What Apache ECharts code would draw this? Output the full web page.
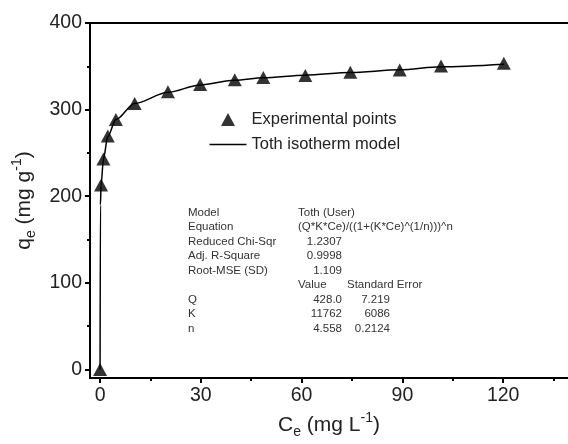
<!DOCTYPE html>
<html>
<head>
<meta charset="utf-8">
<script src="https://cdn.jsdelivr.net/npm/echarts@6/dist/echarts.min.js"></script>
<style>
html,body{margin:0;padding:0;background:#fff}
#chart{width:568px;height:444px}
</style>
</head>
<body>
<div id="chart"></div>
<script>
// experimental points (Ce, qe)
var ceValues = [0, 0.3, 1.0, 2.3, 4.7, 10.3, 20.2, 29.8, 40.1, 48.6, 61.1, 74.5, 89.2, 101.5, 120.2];
var qeValues = [0, 213, 243, 269.5, 288.5, 307, 320.5, 329, 334.5, 337, 339.5, 343, 345.6, 350.3, 353.5];
// Toth model curve
var modelCe = [0, 0.1, 0.3, 1.0, 2.3, 4.7, 10.3, 20.2, 29.8, 40.1, 48.6, 61.1, 74.5, 89.2, 101.5, 120.2];
var modelQe = [0, 190, 213, 243, 269, 288.5, 307, 320, 328.5, 334, 336.8, 339.8, 342.8, 346, 349.5, 352.5];

var xTicks = [0, 30, 60, 90, 120];
var xMinor = [15, 45, 75, 105, 135];
var yTicks = [0, 100, 200, 300, 400];
var yMinor = [50, 150, 250, 350];

// fit report
var modelName = 'Toth (User)';
var equation = '(Q*K*Ce)/((1+(K*Ce)^(1/n)))^n';
var fitNames = ['Reduced Chi-Sqr', 'Adj. R-Square', 'Root-MSE (SD)'];
var fitValues = ['1.2307', '0.9998', '1.109'];
var paramNames = ['Q', 'K', 'n'];
var paramValues = ['428.0', '11762', '4.558'];
var paramErrors = ['7.219', '6086', '0.2124'];

var FONT = 'Liberation Sans, Arial, sans-serif';
var X_MIN = -3, X_MAX = 139.3, Y_MIN = -10, Y_MAX = 400;

var chart = echarts.init(document.getElementById('chart'));

function txt(x, y, s, align) {
	return {
		type: 'text', x: x, y: y, silent: true,
		style: {
			text: s, fontSize: 11.5, fontFamily: FONT, fill: '#333',
			align: align || 'left', verticalAlign: 'middle',
			textAlign: align || 'left', textVerticalAlign: 'middle'
		}
	};
}

var stats = [];
var rowY = 212.5, rowH = 14.5;
stats.push(txt(188, rowY, 'Model'));
stats.push(txt(298, rowY, modelName));
stats.push(txt(188, rowY + rowH, 'Equation'));
stats.push(txt(298, rowY + rowH, equation));
for (var i = 0; i < fitNames.length; i++) {
	stats.push(txt(188, rowY + rowH * (2 + i), fitNames[i]));
	stats.push(txt(342, rowY + rowH * (2 + i), fitValues[i], 'right'));
}
stats.push(txt(298, rowY + rowH * 5, 'Value'));
stats.push(txt(347, rowY + rowH * 5, 'Standard Error'));
for (var j = 0; j < paramNames.length; j++) {
	stats.push(txt(188, rowY + rowH * (6 + j), paramNames[j]));
	stats.push(txt(342, rowY + rowH * (6 + j), paramValues[j], 'right'));
	stats.push(txt(390, rowY + rowH * (6 + j), paramErrors[j], 'right'));
}

var points = [];
for (var a = 0; a < ceValues.length; a++) points.push([ceValues[a], qeValues[a]]);
var curve = [];
for (var b = 0; b < modelCe.length; b++) curve.push([modelCe[b], modelQe[b]]);

var nameRich = {
	m: {fontSize: 21, fontFamily: FONT, color: '#222', lineHeight: 28},
	s: {fontSize: 14, fontFamily: FONT, color: '#222', verticalAlign: 'bottom', lineHeight: 14},
	p: {fontSize: 14, fontFamily: FONT, color: '#222', verticalAlign: 'top', lineHeight: 14}
};
var axisLineStyle = {color: '#000', width: 2};
var labelStyle = {fontSize: 19.5, fontFamily: FONT, color: '#222', margin: 8};

// legend icons: triangle kept in the middle of a 37px wide box, and a plain line
var triIcon = 'path://M0,6.5L0,6.5M37,6.5L37,6.5M18.5,0L25.5,13L11.5,13Z';
var lineIcon = 'path://M0,0L0,0M0,6.25L37,6.25L37,7.75L0,7.75ZM0,14L0,14';

function tickOnly(pos, min, max, values) {
	return {
		type: 'value', position: pos, min: min, max: max,
		axisLine: {show: false, onZero: false},
		axisTick: {show: true, customValues: values, length: 3, lineStyle: axisLineStyle},
		axisLabel: {show: false},
		splitLine: {show: false}
	};
}

var option = {
	backgroundColor: '#fff',
	animation: false,
	grid: {left: 90, top: 23, width: 482, height: 359},
	legend: {
		orient: 'vertical',
		left: 204.5, top: 106,
		itemWidth: 37, itemHeight: 14, itemGap: 8,
		symbolKeepAspect: true,
		itemStyle: {color: '#000'},
		textStyle: {fontSize: 16.5, fontFamily: FONT, color: '#222'},
		data: [
			{name: 'Experimental points', icon: triIcon},
			{name: 'Toth isotherm model', icon: lineIcon}
		]
	},
	xAxis: [{
		type: 'value', position: 'bottom', min: X_MIN, max: X_MAX,
		axisLine: {onZero: false, lineStyle: axisLineStyle},
		axisTick: {customValues: xTicks, length: 5, lineStyle: axisLineStyle},
		axisLabel: Object.assign({customValues: xTicks}, labelStyle),
		splitLine: {show: false},
		name: '{m|C}{s|e}{m| (mg L}{p|-1}{m|)}',
		nameLocation: 'middle', nameGap: 24,
		nameTextStyle: {rich: nameRich}
	},
	tickOnly('bottom', X_MIN, X_MAX, xMinor),
	{
		type: 'value', position: 'top', min: X_MIN, max: X_MAX,
		axisLine: {onZero: false, lineStyle: axisLineStyle},
		axisTick: {show: false},
		axisLabel: {show: false},
		splitLine: {show: false}
	}],
	yAxis: [{
		type: 'value', position: 'left', min: Y_MIN, max: Y_MAX,
		axisLine: {show: true, onZero: false, lineStyle: axisLineStyle},
		axisTick: {show: true, customValues: yTicks, length: 5, lineStyle: axisLineStyle},
		axisLabel: Object.assign({customValues: yTicks}, labelStyle),
		splitLine: {show: false},
		name: '{m|q}{s|e}{m| (mg g}{p|-1}{m|)}',
		nameLocation: 'middle', nameGap: 52,
		nameTextStyle: {rich: nameRich}
	},
	tickOnly('left', Y_MIN, Y_MAX, yMinor)],
	series: [{
		name: 'Toth isotherm model',
		type: 'line',
		data: curve,
		showSymbol: false,
		symbol: 'none',
		smooth: 0.3,
		smoothMonotone: 'x',
		lineStyle: {color: '#000', width: 1.5},
		itemStyle: {color: '#000'},
		z: 2
	}, {
		name: 'Experimental points',
		type: 'scatter',
		data: points,
		symbol: 'triangle',
		symbolSize: [14, 13],
		itemStyle: {color: '#000'},
		z: 3
	}],
	graphic: stats
};

chart.setOption(option);
</script>
</body>
</html>
